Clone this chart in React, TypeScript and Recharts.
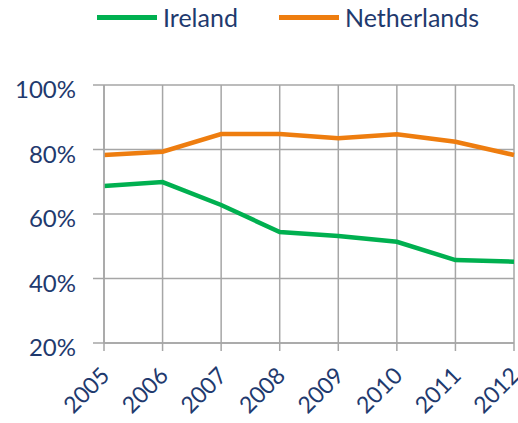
import { LineChart, Line, XAxis, YAxis, CartesianGrid, Legend } from 'recharts';

const years = ['2005', '2006', '2007', '2008', '2009', '2010', '2011', '2012'];
const ireland = [68.7, 69.9, 62.8, 54.4, 53.2, 51.4, 45.7, 45.2];
const netherlands = [78.3, 79.3, 84.8, 84.8, 83.5, 84.7, 82.4, 78.3];
const yTicks = [20, 40, 60, 80, 100];

const GREEN = '#00B050';
const ORANGE = '#EE7D0F';
const TEXT = '#1F3A6E';
const GRID = '#A6A6A6';
const FONT = 'Lato, "Open Sans", sans-serif';

const data = years.map((year, i) => ({
  year,
  Ireland: ireland[i],
  Netherlands: netherlands[i],
}));

const YTick = ({ x, y, payload }: any) => (
  <text
    x={x - 15}
    y={y + 5}
    dy="0.35em"
    textAnchor="end"
    fill={TEXT}
    fontSize={24}
    fontFamily={FONT}
  >
    {`${payload.value}%`}
  </text>
);

const XTick = ({ x, y, payload }: any) => (
  <text
    transform={`translate(${x + 7},${y + 24}) rotate(-45)`}
    textAnchor="end"
    fill={TEXT}
    fontSize={23}
    fontFamily={FONT}
  >
    {payload.value}
  </text>
);

const LegendContent = () => (
  <div style={{ position: 'relative', height: 85, fontFamily: FONT, fontSize: 25, color: TEXT }}>
    {[
      { name: 'Ireland', color: GREEN, left: 97 },
      { name: 'Netherlands', color: ORANGE, left: 279 },
    ].map((item) => (
      <div
        key={item.name}
        style={{ position: 'absolute', left: item.left, top: 2, display: 'flex', alignItems: 'center', height: 30 }}
      >
        <span style={{ display: 'inline-block', width: 60, height: 5, background: item.color, marginRight: 6 }} />
        <span>{item.name}</span>
      </div>
    ))}
  </div>
);

export default function App() {
  return (
    <div style={{ position: 'fixed', left: 0, top: 0, background: '#fff' }}>
      <LineChart width={518} height={423} data={data} margin={{ top: 0, right: 4, left: 0, bottom: 0 }}>
        <Legend
          verticalAlign="top"
          align="left"
          height={85}
          content={<LegendContent />}
          wrapperStyle={{ left: 0, top: 0, width: 518 }}
        />
        <CartesianGrid stroke={GRID} strokeWidth={1.5} />
        <XAxis
          dataKey="year"
          height={80}
          interval={0}
          tick={<XTick />}
          tickSize={8}
          tickLine={{ stroke: GRID, strokeWidth: 1.5 }}
          axisLine={{ stroke: GRID, strokeWidth: 1.5 }}
        />
        <YAxis
          width={104}
          domain={[20, 100]}
          ticks={yTicks}
          interval={0}
          tick={<YTick />}
          tickSize={11}
          tickLine={{ stroke: GRID, strokeWidth: 1.5 }}
          axisLine={{ stroke: GRID, strokeWidth: 1.5 }}
        />
        <Line
          dataKey="Ireland"
          stroke={GREEN}
          strokeWidth={4.5}
          dot={false}
          isAnimationActive={false}
        />
        <Line
          dataKey="Netherlands"
          stroke={ORANGE}
          strokeWidth={4.5}
          dot={false}
          isAnimationActive={false}
        />
      </LineChart>
    </div>
  );
}
